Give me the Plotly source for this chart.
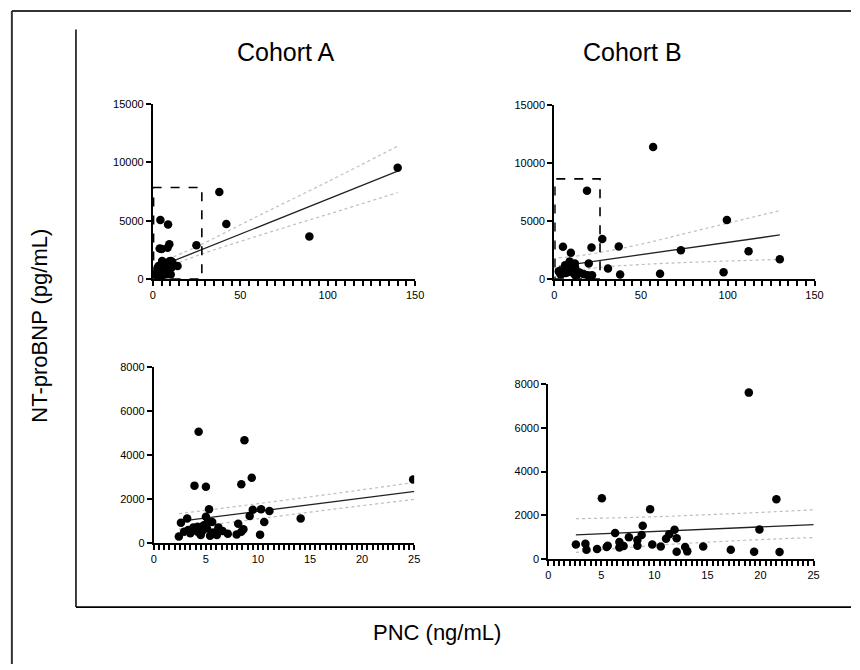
import plotly.graph_objects as go

# ---- data -------------------------------------------------------------
# Cohort A: PNC (ng/mL) vs NT-proBNP (pg/mL)
cohort_a_pnc = [4.3, 8.7, 9.4, 3.9, 5.0, 8.4, 24.9, 14.1, 11.1, 10.3,
                9.5, 9.2, 10.6, 10.2, 5.3, 5.0, 3.2, 2.6, 2.4, 2.9,
                3.5, 3.8, 4.2, 4.6, 5.2, 5.6, 5.1, 5.4, 5.7, 6.2,
                6.05, 6.6, 7.1, 7.95, 8.1, 8.6, 8.4, 4.2, 4.5, 3.3,
                4.8, 38.0, 42.0, 89.5, 140.0]
cohort_a_ntprobnp = [5070, 4680, 2980, 2620, 2570, 2680, 2900, 1120, 1470, 1550,
                     1520, 1240, 970, 390, 1540, 1200, 1120, 930, 310, 520,
                     450, 720, 520, 520, 970, 970, 670, 340, 490, 720,
                     370, 550, 430, 400, 880, 640, 520, 750, 370, 600,
                     820, 7470, 4720, 3650, 9550]

# Cohort B
cohort_b_pnc = [18.9, 5.05, 21.5, 9.6, 19.9, 8.9, 11.9, 8.8, 6.3, 7.6,
                11.4, 11.1, 12.1, 8.4, 6.7, 2.6, 3.5, 3.6, 4.6, 5.5,
                5.6, 6.7, 7.1, 8.4, 9.8, 10.6, 12.1, 12.9, 13.1, 14.6,
                17.2, 19.4, 21.8, 27.7, 31.0, 37.2, 38.0, 57.0, 61.0, 73.0,
                97.6, 99.5, 112.0, 130.0]
cohort_b_ntprobnp = [7610, 2780, 2730, 2270, 1350, 1520, 1340, 1100, 1190, 990,
                     1130, 920, 950, 870, 770, 660, 690, 420, 450, 540,
                     600, 525, 590, 600, 660, 570, 330, 540, 345, 570,
                     420, 330, 315, 3460, 900, 2810, 390, 11400, 450, 2480,
                     590, 5090, 2390, 1700]

# linear regression lines and 95% confidence bands
fit_a_x = [2.4, 140]
fit_a_y = [994, 9250]
band_a_x = [2.4, 10, 25, 60, 100, 140]
band_a_upper = [1345, 1800, 2770, 5400, 8350, 11400]
band_a_lower = [640, 1110, 1990, 3700, 5550, 7415]

fit_b_x = [2.6, 130]
fit_b_y = [1096, 3800]
band_b_x = [2.6, 10, 25, 50, 80, 130]
band_b_upper = [1840, 1930, 2250, 3000, 4100, 5900]
band_b_lower = [300, 620, 980, 1250, 1450, 1690]

# dashed boxes marking the zoomed region shown in the lower panels
box_a = dict(x1=28.0, y1=7850)
box_b = dict(x1=26.4, y1=8640)

# axis ranges and tick spacing
full_x_range = [0, 150]
full_y_range = [0, 15000]
full_x_major, full_x_minor = 50, 5
full_y_dtick = 5000
zoom_x_range = [0, 25]
zoom_y_range = [0, 8000]
zoom_x_major, zoom_x_minor = 5, 0.5
zoom_y_dtick = 2000

titles = ["Cohort A", "Cohort B"]
x_title = "PNC (ng/mL)"
y_title = "NT-proBNP (pg/mL)"

# ---- figure -----------------------------------------------------------
W, H = 860, 670
FONT = "Liberation Sans, Arial, sans-serif"


def xdom(left, right):
    return [left / W, right / W]


def ydom(top, bottom):
    return [1 - bottom / H, 1 - top / H]


def comb_ticks(rng, major, minor):
    """Tick positions every `minor` step, labelled only on the `major` step."""
    n = int(round((rng[1] - rng[0]) / minor))
    every = int(round(major / minor))
    vals = [rng[0] + i * minor for i in range(n + 1)]
    text = [f"{v:g}" if i % every == 0 else "" for i, v in enumerate(vals)]
    return dict(tickmode="array", tickvals=vals, ticktext=text)


# (axis suffix, data, fit, bands, zoomed?, pixel box left/right/top/bottom)
panels = [
    ("", cohort_b_pnc, cohort_b_ntprobnp, fit_b_x, fit_b_y, band_b_x, band_b_upper, band_b_lower,
     True, (553, 822, 385, 563)),
    ("2", cohort_a_pnc, cohort_a_ntprobnp, fit_a_x, fit_a_y, band_a_x, band_a_upper, band_a_lower,
     True, (153, 417, 368, 547)),
    ("3", cohort_b_pnc, cohort_b_ntprobnp, fit_b_x, fit_b_y, band_b_x, band_b_upper, band_b_lower,
     False, (559, 823, 101, 278)),
    ("4", cohort_a_pnc, cohort_a_ntprobnp, fit_a_x, fit_a_y, band_a_x, band_a_upper, band_a_lower,
     False, (152, 418, 100, 278)),
]

fig = go.Figure()

axis_common = dict(showline=True, linecolor="black", linewidth=2,
                   ticks="outside", ticklen=5, tickwidth=2, tickcolor="black",
                   showgrid=False, zeroline=False)
y_common = dict(tickmode="linear", tick0=0, tickformat="d", **axis_common)
x_common = dict(axis_common, ticklen=5, tickwidth=1.6)

layout_axes = {}
for suf, xs, ys, fx, fy, bx, bu, bl, zoomed, (left, right, top, bottom) in panels:
    xa, ya = "x" + suf, "y" + suf
    if zoomed:
        keep = [i for i, v in enumerate(xs) if v <= zoom_x_range[1] and ys[i] <= zoom_y_range[1]]
        xs = [xs[i] for i in keep]
        ys = [ys[i] for i in keep]
    for band in (bu, bl):
        fig.add_trace(go.Scatter(x=bx, y=band, mode="lines", xaxis=xa, yaxis=ya,
                                 line=dict(color="#bdbdbd", width=1.2, dash="dot", shape="spline"),
                                 hoverinfo="skip", showlegend=False))
    fig.add_trace(go.Scatter(x=fx, y=fy, mode="lines", xaxis=xa, yaxis=ya,
                             line=dict(color="#222222", width=1.3),
                             hoverinfo="skip", showlegend=False))
    fig.add_trace(go.Scatter(x=xs, y=ys, mode="markers", xaxis=xa, yaxis=ya,
                             marker=dict(color="black", size=8.5, line=dict(width=0)),
                             showlegend=False))

    if zoomed:
        xr, xmaj, xmin, yr, ydt = zoom_x_range, zoom_x_major, zoom_x_minor, zoom_y_range, zoom_y_dtick
    else:
        xr, xmaj, xmin, yr, ydt = full_x_range, full_x_major, full_x_minor, full_y_range, full_y_dtick
    layout_axes["xaxis" + suf] = dict(domain=xdom(left, right), range=xr, anchor=ya,
                                      **comb_ticks(xr, xmaj, xmin), **x_common)
    layout_axes["yaxis" + suf] = dict(domain=ydom(top, bottom), range=yr, dtick=ydt, anchor=xa,
                                      **y_common)

fig.update_layout(
    width=W, height=H,
    margin=dict(l=0, r=0, t=0, b=0),
    paper_bgcolor="white", plot_bgcolor="white",
    font=dict(family=FONT, size=11, color="black"),
    showlegend=False,
    **layout_axes,
)

shapes = []
# dashed zoom boxes in the full-range panels (Cohort B on x3/y3, Cohort A on x4/y4)
for suf, box in (("4", box_a), ("3", box_b)):
    shapes.append(dict(type="rect", xref="x" + suf, yref="y" + suf,
                       x0=0.4, y0=0, x1=box["x1"], y1=box["y1"],
                       line=dict(color="black", width=1.6, dash="dash")))
# outer frame (open at right and bottom) and the inner L-shaped frame
shapes += [
    dict(type="line", xref="paper", yref="paper", x0=9 / W, x1=1, y0=1 - 5 / H, y1=1 - 5 / H,
         line=dict(color="#333333", width=2)),
    dict(type="line", xref="paper", yref="paper", x0=9 / W, x1=9 / W, y0=0, y1=1 - 5 / H,
         line=dict(color="#333333", width=2)),
    dict(type="line", xref="paper", yref="paper", x0=74 / W, x1=74 / W, y0=1 - 612 / H, y1=1 - 24 / H,
         line=dict(color="black", width=1.5)),
    dict(type="line", xref="paper", yref="paper", x0=74 / W, x1=1, y0=1 - 612 / H, y1=1 - 612 / H,
         line=dict(color="black", width=1.8)),
]
fig.update_layout(shapes=shapes)

annotations = [
    dict(text=titles[0], x=287 / W, y=1 - 47 / H, xref="paper", yref="paper",
         showarrow=False, font=dict(family=FONT, size=25, color="black"), xanchor="center", yanchor="middle"),
    dict(text=titles[1], x=638 / W, y=1 - 47 / H, xref="paper", yref="paper",
         showarrow=False, font=dict(family=FONT, size=25, color="black"), xanchor="center", yanchor="middle"),
    dict(text=x_title, x=440 / W, y=1 - 638 / H, xref="paper", yref="paper",
         showarrow=False, font=dict(family=FONT, size=22, color="black"), xanchor="center", yanchor="middle"),
    dict(text=y_title, x=37 / W, y=1 - 325 / H, xref="paper", yref="paper", textangle=-90,
         showarrow=False, font=dict(family=FONT, size=22, color="black"), xanchor="center", yanchor="middle"),
]
fig.update_layout(annotations=annotations)

fig.write_html("out.html")
